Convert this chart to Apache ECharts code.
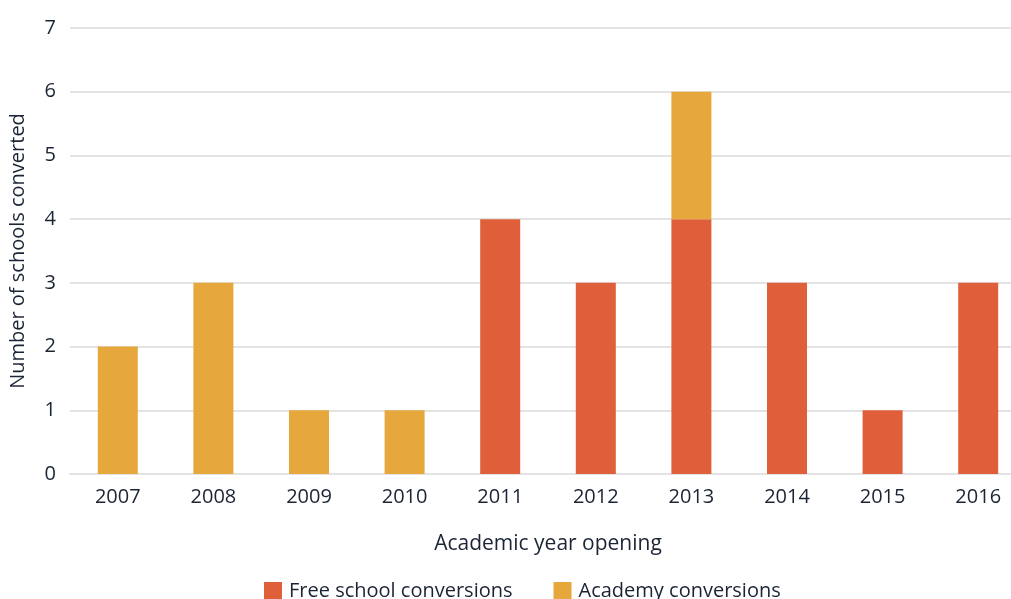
<!DOCTYPE html>
<html>
<head>
<meta charset="utf-8">
<script src="https://cdn.jsdelivr.net/npm/echarts@6/dist/echarts.min.js"></script>
<style>
  html, body { margin: 0; padding: 0; background: #fff; }
  #chart { width: 1011px; height: 599px; }
</style>
</head>
<body>
<div id="chart"></div>
<script>
// Data
const years = ['2007', '2008', '2009', '2010', '2011', '2012', '2013', '2014', '2015', '2016'];
const freeSchool = [0, 0, 0, 0, 4, 3, 4, 3, 1, 3];
const academy = [2, 3, 1, 1, 0, 0, 2, 0, 0, 0];

const textColor = '#1b2435';
const fontFamily = '"Open Sans", "Noto Sans", sans-serif';

let chart = echarts.init(document.getElementById('chart'));

let option = {
    animation: false,
    textStyle: { fontFamily: fontFamily, color: textColor },
    grid: { left: 70, top: 28, width: 956, height: 446, outerBoundsMode: 'none', containLabel: false },
    legend: {
        data: ['Free school conversions', 'Academy conversions'],
        left: 259,
        top: 576,
        itemWidth: 18,
        itemHeight: 18,
        itemGap: 41,
        icon: 'rect',
        textStyle: { fontSize: 20, color: textColor, fontFamily: fontFamily, padding: [0, 0, 0, 2] }
    },
    xAxis: {
        type: 'category',
        data: years,
        name: 'Academic year opening',
        nameLocation: 'middle',
        nameGap: 60,
        nameTextStyle: { fontSize: 21, color: textColor, fontFamily: fontFamily },
        axisLine: { lineStyle: { color: '#e3e3e3', width: 2 } },
        axisTick: { show: false },
        axisLabel: { fontSize: 20, color: textColor, margin: 13, fontFamily: fontFamily }
    },
    yAxis: {
        type: 'value',
        min: 0,
        max: 7,
        interval: 1,
        name: 'Number of schools converted',
        nameLocation: 'middle',
        nameGap: 42,
        nameTextStyle: { fontSize: 20, color: textColor, fontFamily: fontFamily },
        axisLine: { show: false },
        axisTick: { show: false },
        axisLabel: { fontSize: 20, color: textColor, margin: 14, fontFamily: fontFamily },
        splitLine: { lineStyle: { color: '#e3e3e3', width: 2 } }
    },
    series: [
        {
            name: 'Free school conversions',
            type: 'bar',
            stack: 'total',
            barWidth: 40,
            data: freeSchool,
            itemStyle: { color: '#df5f3a' }
        },
        {
            name: 'Academy conversions',
            type: 'bar',
            stack: 'total',
            barWidth: 40,
            data: academy,
            itemStyle: { color: '#e6a73c' }
        }
    ]
};

chart.setOption(option);
</script>
</body>
</html>
